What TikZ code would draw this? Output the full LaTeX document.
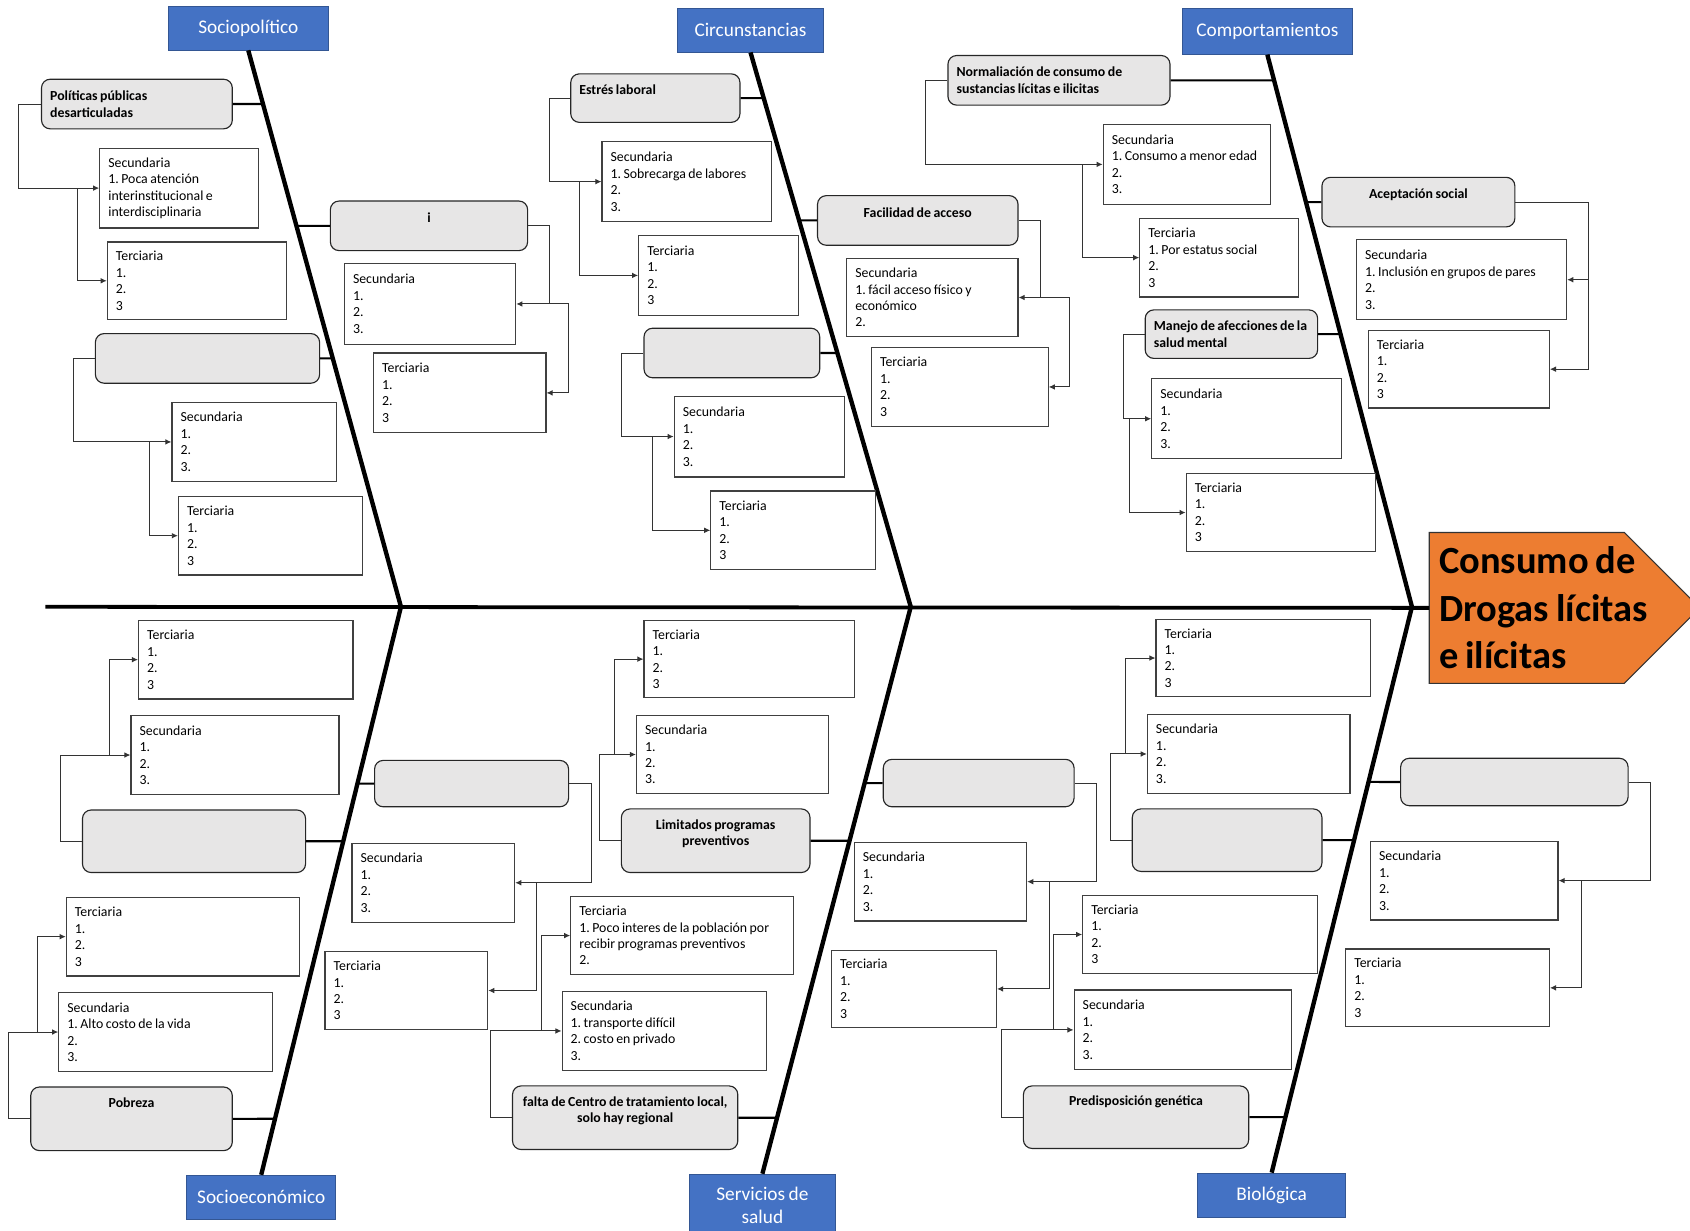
\documentclass[tikz,border=0pt]{standalone}
\usepackage{fontspec}
\setmainfont{Carlito}[WordSpace=0.8]
\usepackage{tikz}
\usetikzlibrary{arrows.meta,calc}
\definecolor{CatBlue}{RGB}{68,114,196}
\definecolor{HeadOrange}{RGB}{237,125,49}
\definecolor{CauseGray}{RGB}{231,230,230}
\frenchspacing

\begin{document}
\begin{tikzpicture}[x=0.2mm,y=-0.2mm,
  cat/.style 2 args={anchor=north west,draw=CatBlue!75!black,fill=CatBlue,text=white,
    minimum width=#1*0.2mm,minimum height=#2*0.2mm,inner sep=0pt,align=center,
    font=\fontsize{10.2}{12.5}\selectfont},
  cause/.style 2 args={anchor=north west,draw=black!85,fill=CauseGray,rounded corners=1.6mm,
    line width=0.6pt,minimum width=#1*0.2mm,minimum height=#2*0.2mm,
    text width=#1*0.2mm-3.2mm,inner xsep=1.6mm,inner ysep=1pt,align=flush left,
    font=\fontsize{7.3}{8.7}\selectfont\bfseries},
  causec/.style 2 args={cause={#1}{#2},text width=#1*0.2mm-1.6mm,inner xsep=0.8mm,
    align=flush center},
  sec/.style 2 args={anchor=north west,draw=black!75,fill=white,line width=0.6pt,
    minimum width=#1*0.2mm,minimum height=#2*0.2mm,
    text width=#1*0.2mm-3.2mm,inner xsep=1.6mm,align=flush left,
    font=\fontsize{7.3}{8.7}\selectfont},
  twig/.style={line width=1.1pt},
  bone/.style={line width=2.3pt},
  spine/.style={line width=2pt},
  arr/.style={-{Latex[length=3.2pt,width=3pt]},line width=0.5pt,black!80},
]
\useasboundingbox (0,0) rectangle (1568,1142);

\node[cat={148}{40}] (cSP) at (156,6) {Sociopolítico};
\node[cat={136}{41}] (cCI) at (628,7) {Circunstancias};
\node[cat={157}{43}] (cCO) at (1097,7) {Comportamientos};
\node[cat={138}{41}] (cSE) at (173,1090) {Socioeconómico};
\node[cat={136}{58}] (cSS) at (639,1089) {Servicios de\\salud};
\node[cat={137}{41}] (cBI) at (1111,1088) {Biológica};

\coordinate (tail) at (42,563);
\coordinate (j1) at (372,563);
\coordinate (j2) at (845,563);
\coordinate (j3) at (1310,563);
\coordinate (hd) at (1326,564);
\draw[fill=HeadOrange,draw=black!80,line width=0.6pt] ($(hd)+(0,-70)$) -- ++(181,0)
  -- ++(70,70) -- ++(-70,70) -- ++(-181,0) -- cycle;
\node[anchor=west,text width=48mm,inner xsep=1.8mm,align=flush left,
      font=\fontsize{20.3}{25}\selectfont\bfseries] (head) at (hd)
  {Consumo de\\Drogas lícitas\\e ilícitas};
\draw[spine] (tail) -- (head.west);
\draw[bone] (cSP.south) -- (j1) -- (cSE.north);
\draw[bone] (cCI.south) -- (j2) -- (cSS.north);
\draw[bone] (cCO.south) -- (j3) -- (cBI.north);

\node[cause={177}{46}] (pp) at (38,73) {Políticas públicas\\desarticuladas};
\node[sec={147}{74}] (pps) at (92,137)
  {Secundaria\\1. Poca atención\\interinstitucional e\\interdisciplinaria};
\node[sec={166}{72}] (ppt) at (99,224) {Terciaria\\1.\\2.\\3};
\node[causec={183}{46}] (ib) at (306,186) {i\\~};
\node[sec={159}{75}] (ibs) at (319,244) {Secundaria\\1.\\2.\\3.};
\node[sec={160}{74}] (ibt) at (346,327) {Terciaria\\1.\\2.\\3};
\node[cause={208}{46}] (sp3) at (88,309) {};
\node[sec={153}{73}] (sp3s) at (159,373) {Secundaria\\1.\\2.\\3.};
\node[sec={171}{73}] (sp3t) at (165,460) {Terciaria\\1.\\2.\\3};

\node[cause={157}{45}] (el) at (529,68) {Estrés laboral\\~};
\node[sec={157}{74}] (els) at (558,131) {Secundaria\\1. Sobrecarga de labores\\2.\\3.};
\node[sec={148}{74}] (elt) at (592,218) {Terciaria\\1.\\2.\\3};
\node[cause={163}{46}] (ci2) at (597,304) {};
\node[sec={158}{75}] (ci2s) at (625,367) {Secundaria\\1.\\2.\\3.};
\node[sec={153}{73}] (ci2t) at (659,455) {Terciaria\\1.\\2.\\3};
\node[causec={186}{46}] (fa) at (758,181) {Facilidad de acceso\\~};
\node[sec={159}{73}] (fas) at (785,239) {Secundaria\\1. fácil acceso físico y\\económico\\2.};
\node[sec={164}{73}] (fat) at (808,322) {Terciaria\\1.\\2.\\3};

\node[cause={206}{46}] (nr) at (879,51) {Normaliación de consumo de\\sustancias lícitas e ilicitas};
\node[sec={155}{74}] (nrs) at (1023,115) {Secundaria\\1. Consumo a menor edad\\2.\\3.};
\node[sec={147}{73}] (nrt) at (1057,202) {Terciaria\\1. Por estatus social\\2.\\3};
\node[causec={179}{46}] (ac) at (1226,164) {Aceptación social\\~};
\node[sec={195}{74}] (acs) at (1258,222) {Secundaria\\1. Inclusión en grupos de pares\\2.\\3.};
\node[sec={168}{72}] (act) at (1269,306) {Terciaria\\1.\\2.\\3};
\node[cause={160}{45}] (ma) at (1062,287) {Manejo de afecciones de la\\salud mental};
\node[sec={176}{74}] (mas) at (1068,351) {Secundaria\\1.\\2.\\3.};
\node[sec={176}{72}] (mat) at (1100,439) {Terciaria\\1.\\2.\\3};

\node[cause={207}{58}] (se1) at (76,751) {};
\node[sec={193}{74}] (se1s) at (121,663) {Secundaria\\1.\\2.\\3.};
\node[sec={199}{73}] (se1t) at (128,575) {Terciaria\\1.\\2.\\3};
\node[causec={187}{59}] (po) at (28,1008) {Pobreza\\~\\~};
\node[sec={198}{74}] (pos) at (54,920) {Secundaria\\1. Alto costo de la vida\\2.\\3.};
\node[sec={216}{73}] (pot) at (61,832) {Terciaria\\1.\\2.\\3};
\node[cause={180}{43}] (se3) at (347,705) {};
\node[sec={151}{73}] (se3s) at (326,782) {Secundaria\\1.\\2.\\3.};
\node[sec={151}{73}] (se3t) at (301,882) {Terciaria\\1.\\2.\\3};

\node[causec={175}{59}] (lp) at (576,750) {Limitados programas\\preventivos\\~};
\node[sec={178}{73}] (lps) at (590,663) {Secundaria\\1.\\2.\\3.};
\node[sec={195}{72}] (lpt) at (597,575) {Terciaria\\1.\\2.\\3};
\node[causec={209}{59}] (fc) at (475,1007)
  {falta de Centro de tratamiento local,\\solo hay regional\\~};
\node[sec={190}{74}] (fcs) at (521,919)
  {Secundaria\\1. transporte difícil\\2. costo en privado\\3.};
\node[sec={207}{73}] (fct) at (529,831)
  {Terciaria\\1. Poco interes de la población por\\recibir programas preventivos\\2.};
\node[cause={177}{44}] (ss3) at (819,704) {};
\node[sec={160}{73}] (ss3s) at (792,781) {Secundaria\\1.\\2.\\3.};
\node[sec={153}{72}] (ss3t) at (771,881) {Terciaria\\1.\\2.\\3};

\node[cause={176}{58}] (bi1) at (1050,750) {};
\node[sec={188}{74}] (bi1s) at (1064,662) {Secundaria\\1.\\2.\\3.};
\node[sec={199}{72}] (bi1t) at (1072,574) {Terciaria\\1.\\2.\\3};
\node[causec={209}{58}] (pg) at (949,1007) {Predisposición genética\\~\\~};
\node[sec={202}{74}] (pgs) at (996,918) {Secundaria\\1.\\2.\\3.};
\node[sec={218}{73}] (pgt) at (1004,830) {Terciaria\\1.\\2.\\3};
\node[cause={211}{44}] (bi3) at (1299,703) {};
\node[sec={174}{73}] (bi3s) at (1271,780) {Secundaria\\1.\\2.\\3.};
\node[sec={189}{72}] (bi3t) at (1248,880) {Terciaria\\1.\\2.\\3};

\draw[twig] (pp.east) -- (intersection of pp.west--pp.east and cSP.south--j1);
\draw[twig] (sp3.east) -- (intersection of sp3.west--sp3.east and cSP.south--j1);
\draw[twig] (ib.west) -- (intersection of ib.west--ib.east and cSP.south--j1);
\draw[twig] (el.east) -- (intersection of el.west--el.east and cCI.south--j2);
\draw[twig] (ci2.east) -- (intersection of ci2.west--ci2.east and cCI.south--j2);
\draw[twig] (fa.west) -- (intersection of fa.west--fa.east and cCI.south--j2);
\draw[twig] (nr.east) -- (intersection of nr.west--nr.east and cCO.south--j3);
\draw[twig] (ma.east) -- (intersection of ma.west--ma.east and cCO.south--j3);
\draw[twig] (ac.west) -- (intersection of ac.west--ac.east and cCO.south--j3);
\draw[twig] (se1.east) -- (intersection of se1.west--se1.east and j1--cSE.north);
\draw[twig] (po.east) -- (intersection of po.west--po.east and j1--cSE.north);
\draw[twig] (se3.west) -- (intersection of se3.west--se3.east and j1--cSE.north);
\draw[twig] (lp.east) -- (intersection of lp.west--lp.east and j2--cSS.north);
\draw[twig] (fc.east) -- (intersection of fc.west--fc.east and j2--cSS.north);
\draw[twig] (ss3.west) -- (intersection of ss3.west--ss3.east and j2--cSS.north);
\draw[twig] (bi1.east) -- (intersection of bi1.west--bi1.east and j3--cBI.north);
\draw[twig] (pg.east) -- (intersection of pg.west--pg.east and j3--cBI.north);
\draw[twig] (bi3.west) -- (intersection of bi3.west--bi3.east and j3--cBI.north);

\draw[arr] (pp.west) -- ++(-21,0) |- (pps.west);
\draw[arr] ($(pps.west)+(-20,0)$) |- (ppt.west);
\draw[arr] (sp3.west) -- ++(-20,0) |- (sp3s.west);
\draw[arr] ($(sp3s.west)+(-20,0)$) |- (sp3t.west);
\draw[arr] (ib.east) -- ++(20,0) |- (ibs.east);
\draw[arr] ($(ibs.east)+(31,0)$) -- ++(17,0) |- (ibt.east);
\draw[arr] (el.west) -- ++(-19,0) |- (els.west);
\draw[arr] ($(els.west)+(-20,0)$) |- (elt.west);
\draw[arr] (ci2.west) -- ++(-20,0) |- (ci2s.west);
\draw[arr] ($(ci2s.west)+(-20,0)$) |- (ci2t.west);
\draw[arr] (fa.east) -- ++(20,0) |- (fas.east);
\draw[arr] ($(fas.east)+(20,0)$) -- ++(27,0) |- (fat.east);
\draw[arr] (nr.west) -- ++(-20,0) |- (nrs.west);
\draw[arr] ($(nrs.west)+(-19,0)$) |- (nrt.west);
\draw[arr] (ac.east) -- ++(68,0) |- (acs.east);
\draw[arr] ($(acs.east)+(20,0)$) |- (act.east);
\draw[arr] (ma.west) -- ++(-20,0) |- (mas.west);
\draw[arr] ($(mas.west)+(-20,0)$) |- (mat.west);
\draw[arr] (se1.west) -- ++(-20,0) |- (se1s.west);
\draw[arr] ($(se1s.west)+(-19,0)$) |- (se1t.west);
\draw[arr] (po.west) -- ++(-20,0) |- (pos.west);
\draw[arr] ($(pos.west)+(-19,0)$) |- (pot.west);
\draw[arr] (se3.east) -- ++(21,0) |- (se3s.east);
\draw[arr] ($(se3s.east)+(20,0)$) |- (se3t.east);
\draw[arr] (lp.west) -- ++(-20,0) |- (lps.west);
\draw[arr] ($(lps.west)+(-20,0)$) |- (lpt.west);
\draw[arr] (fc.west) -- ++(-20,0) |- (fcs.west);
\draw[arr] ($(fcs.west)+(-19,0)$) |- (fct.west);
\draw[arr] (ss3.east) -- ++(20,0) |- (ss3s.east);
\draw[arr] ($(ss3s.east)+(21,0)$) |- (ss3t.east);
\draw[arr] (bi1.west) -- ++(-20,0) |- (bi1s.west);
\draw[arr] ($(bi1s.west)+(-20,0)$) |- (bi1t.west);
\draw[arr] (pg.west) -- ++(-20,0) |- (pgs.west);
\draw[arr] ($(pgs.west)+(-19,0)$) |- (pgt.west);
\draw[arr] (bi3.east) -- ++(20,0) |- (bi3s.east);
\draw[arr] ($(bi3s.east)+(21,0)$) |- (bi3t.east);
\end{tikzpicture}
\end{document}
